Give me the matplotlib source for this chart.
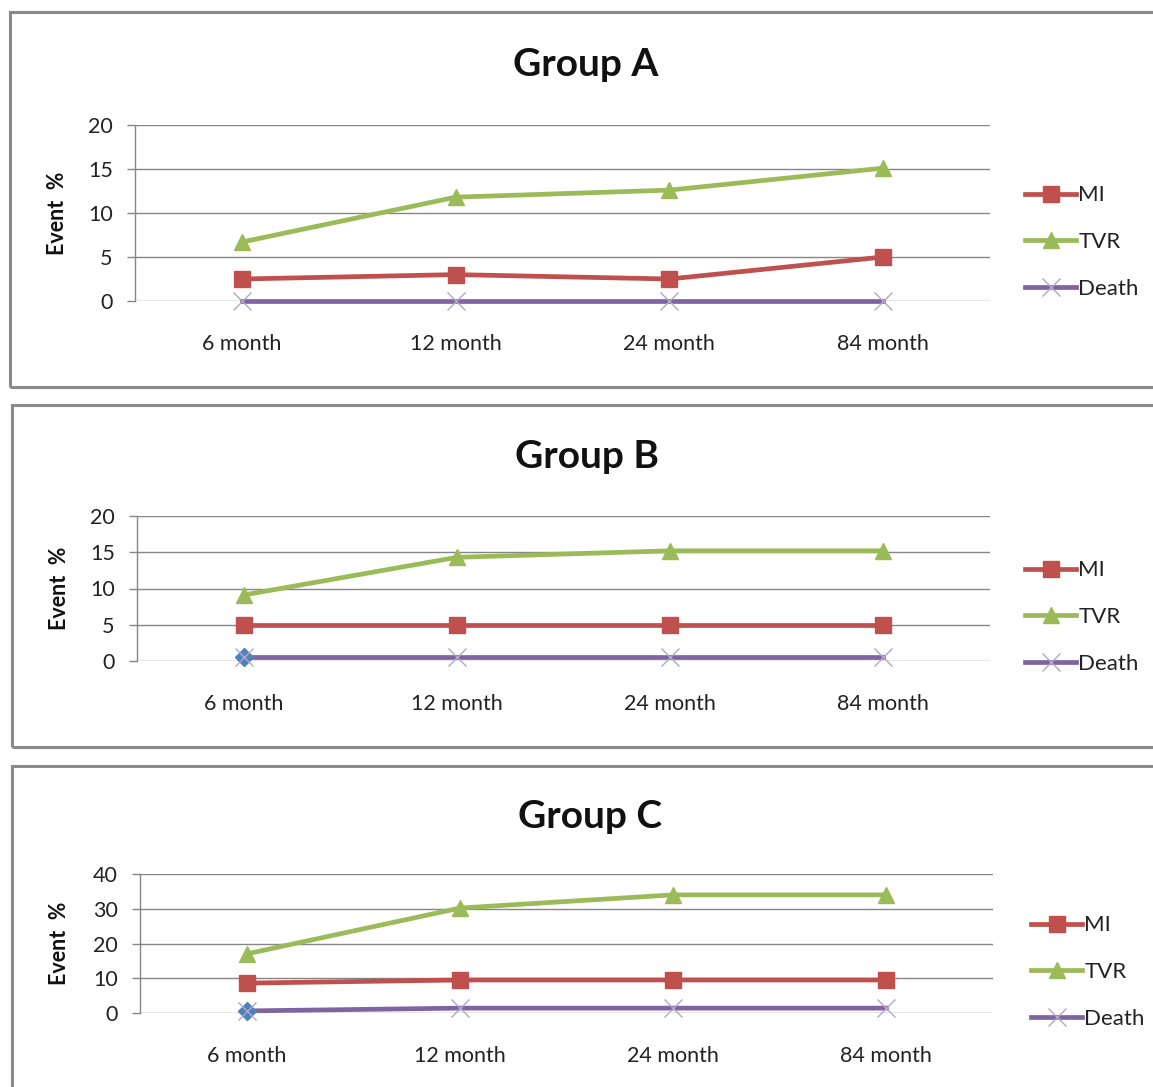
import matplotlib
matplotlib.use("Agg")
import matplotlib.pyplot as plt
from matplotlib.patches import Rectangle
from matplotlib.lines import Line2D

plt.rcParams['font.family'] = ['Lato', 'DejaVu Sans']

months = ["6 month", "12 month", "24 month", "84 month"]
series_names = ["MI", "TVR", "Death"]

group_a_mi = [2.5, 3.0, 2.5, 5.0]
group_a_tvr = [6.7, 11.8, 12.6, 15.1]
group_a_death = [0.0, 0.0, 0.0, 0.0]

group_b_mi = [5.0, 5.0, 5.0, 5.0]
group_b_tvr = [9.1, 14.3, 15.2, 15.2]
group_b_death = [0.6, 0.6, 0.6, 0.6]
group_b_base = [0.6]

group_c_mi = [8.6, 9.5, 9.5, 9.5]
group_c_tvr = [17.0, 30.2, 34.0, 34.0]
group_c_death = [0.6, 1.4, 1.4, 1.4]
group_c_base = [0.6]

titles = ["Group A", "Group B", "Group C"]
y_max = [20, 20, 40]
y_step = [5, 5, 10]

W, H = 1153, 1087
fig = plt.figure(figsize=(W / 100, H / 100), dpi=100)

C_MI = "#C0504D"
C_TVR = "#9BBB59"
C_DEATH = "#8064A2"
C_BASE = "#4F81BD"
C_GRID = "#868686"
C_X = "#b0a8c8"


def fx(px):
    return px / W


def fy(py):
    return 1 - py / H


# panel frames: (left, top, right, bottom) in pixels
frames = [(10, 12, 1175, 387), (12, 405, 1175, 747), (12, 766, 1175, 1110)]
# plot areas: (left, top, right, bottom)
areas = [(135, 125, 990, 301), (137, 516, 990, 661), (140, 874, 993, 1013)]
title_y = [65, 457, 816]
title_x = [586, 587, 590]
legend_x = [1025, 1025, 1031]
legend_y = [242, 617, 972]
ylabel_x = [57, 59, 60]

data = [
    (group_a_mi, group_a_tvr, group_a_death, None),
    (group_b_mi, group_b_tvr, group_b_death, group_b_base),
    (group_c_mi, group_c_tvr, group_c_death, group_c_base),
]

for i in range(3):
    l, t, r, b = frames[i]
    fig.patches.append(Rectangle((fx(l), fy(b)), fx(r - l), (b - t) / H,
                                 transform=fig.transFigure, fill=False,
                                 edgecolor="#8a8a8a", linewidth=2.2, zorder=0))

    l, t, r, b = areas[i]
    ax = fig.add_axes([fx(l), fy(b), fx(r - l), (b - t) / H])
    mi, tvr, death, base = data[i]
    x = list(range(len(months)))

    ax.plot(x, mi, color=C_MI, lw=3.4, marker="s", ms=11, mec=C_MI,
            mfc=C_MI, zorder=4, clip_on=False)
    ax.plot(x, tvr, color=C_TVR, lw=3.4, marker="^", ms=12, mec=C_TVR,
            mfc=C_TVR, zorder=4, clip_on=False)
    ax.plot(x, death, color=C_DEATH, lw=3.4, zorder=4, clip_on=False)
    if base is not None:
        ax.plot([0], base, ls="none", marker="D", ms=9, color=C_BASE,
                zorder=5, clip_on=False)
    ax.plot(x, death, ls="none", marker="x", ms=13, mew=1.0, mec=C_X,
            zorder=6, clip_on=False)

    ax.set_xlim(-0.5, len(months) - 0.5)
    ax.set_ylim(0, y_max[i])
    ax.set_yticks(range(0, y_max[i] + 1, y_step[i]))
    ax.set_xticks(x)
    ax.set_xticklabels(months)
    ax.yaxis.grid(True, color=C_GRID, lw=1.0)
    ax.set_axisbelow(True)
    for s in ["top", "right", "bottom"]:
        ax.spines[s].set_visible(False)
    ax.spines["left"].set_color(C_GRID)
    ax.spines["left"].set_linewidth(1.0)
    ax.tick_params(axis="y", length=6, color=C_GRID, width=1.0, pad=10,
                   labelsize=15.5, labelcolor="#222222")
    ax.tick_params(axis="x", length=0, pad=24, labelsize=15.5,
                   labelcolor="#222222")

    fig.text(fx(ylabel_x[i]), fy((t + b) / 2), "Event  %", rotation=90,
             ha="center", va="center", fontsize=15.5, fontweight="bold",
             color="#111111")
    fig.text(fx(title_x[i]), fy(title_y[i]), titles[i], ha="center",
             va="center", fontsize=28, fontweight="bold", color="#111111")

    handles = [
        Line2D([], [], color=C_MI, lw=3.4, marker="s", ms=11),
        Line2D([], [], color=C_TVR, lw=3.4, marker="^", ms=12),
        Line2D([], [], color=C_DEATH, lw=3.4, marker="x", ms=13, mew=1.0,
               mec=C_X),
    ]
    fig.legend(handles, series_names, loc="center left",
               bbox_to_anchor=(fx(legend_x[i]), fy(legend_y[i])),
               frameon=False, fontsize=16, handlelength=2.3,
               handletextpad=0.1, labelspacing=1.2, borderpad=0,
               borderaxespad=0, labelcolor="#222222")

fig.savefig("out.png", dpi=100, facecolor="white")
